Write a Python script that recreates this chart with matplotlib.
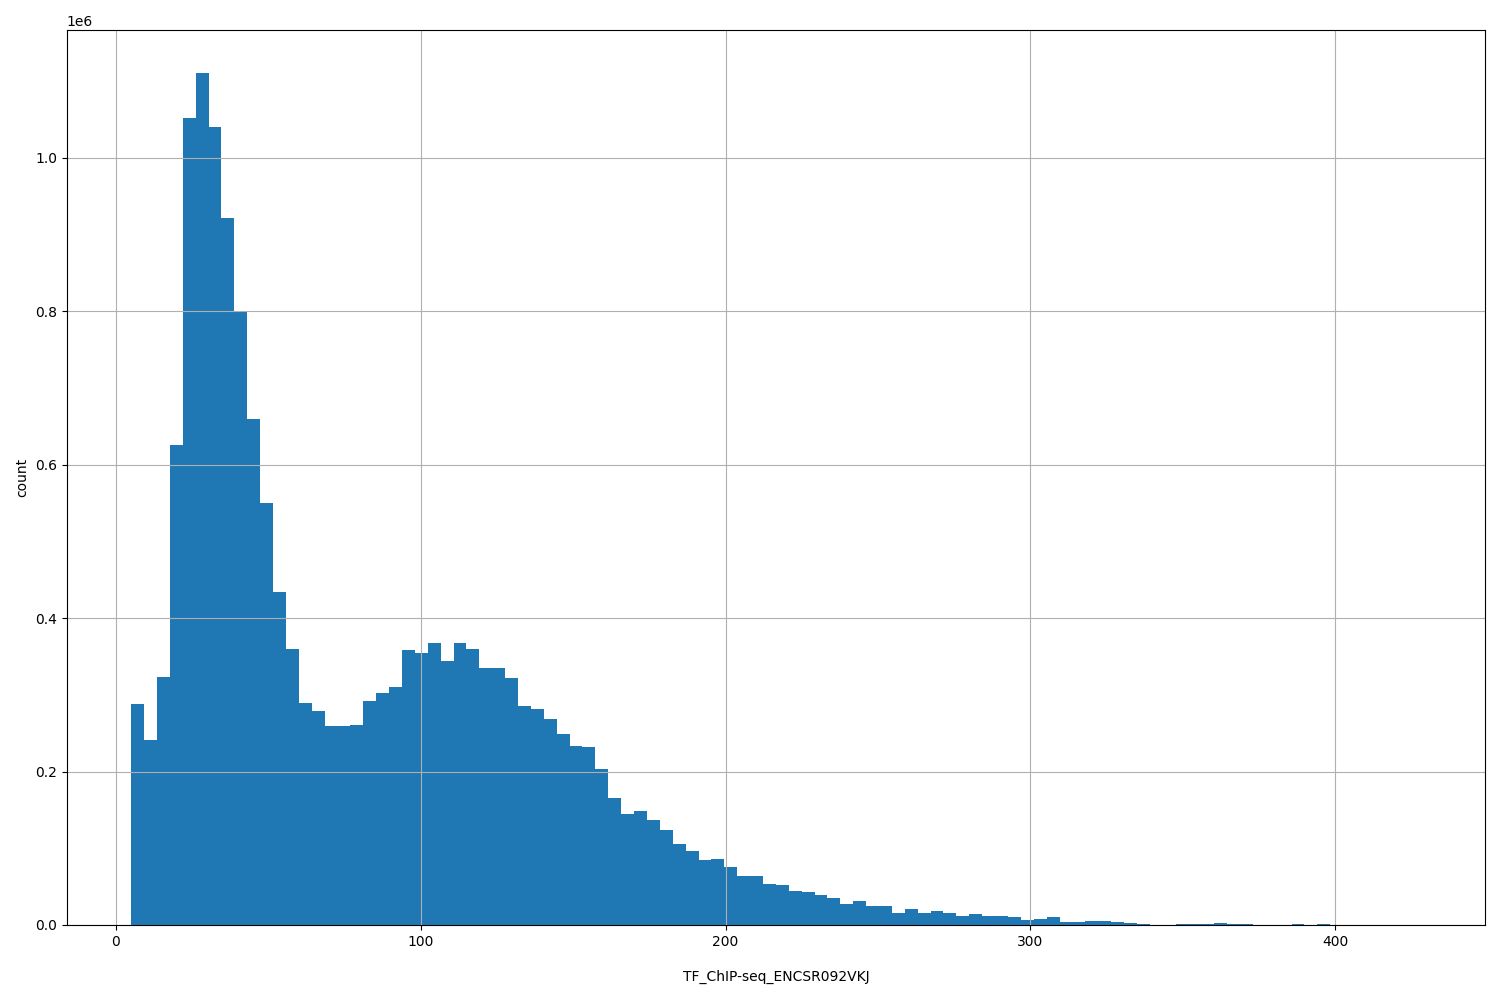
import matplotlib
matplotlib.use('Agg')
import matplotlib.pyplot as plt
import numpy as np

# histogram of 100 bins between lo and hi, counts
lo, hi = 5.0, 428.0
counts = [
    0.288, 0.241, 0.323, 0.625, 1.052, 1.111, 1.040, 0.922, 0.800, 0.660,
    0.550, 0.434, 0.360, 0.289, 0.279, 0.259, 0.259, 0.261, 0.292, 0.302,
    0.310, 0.358, 0.355, 0.368, 0.344, 0.368, 0.360, 0.335, 0.335, 0.322,
    0.285, 0.282, 0.269, 0.249, 0.233, 0.232, 0.203, 0.166, 0.145, 0.149,
    0.137, 0.124, 0.106, 0.096, 0.085, 0.086, 0.076, 0.064, 0.064, 0.053,
    0.052, 0.044, 0.043, 0.039, 0.035, 0.027, 0.031, 0.025, 0.025, 0.015,
    0.021, 0.016, 0.018, 0.016, 0.012, 0.014, 0.012, 0.012, 0.010, 0.006,
    0.008, 0.011, 0.004, 0.004, 0.005, 0.005, 0.004, 0.002, 0.001, 0.0005,
    0.0005, 0.0008, 0.001, 0.0008, 0.002, 0.001, 0.0015, 0.0005, 0.0003, 0.0005,
    0.0015, 0.0003, 0.001, 0.0003, 0.0002, 0.0002, 0.0003, 0.0002, 0.0001, 0.0002,
]
counts = np.array(counts) * 1e6
edges = np.linspace(lo, hi, len(counts) + 1)

fig, ax = plt.subplots(figsize=(15, 10), dpi=100)
ax.hist(edges[:-1], bins=edges, weights=counts, color='#1f77b4')
ax.grid(True)
ax.set_xlabel('TF_ChIP-seq_ENCSR092VKJ', labelpad=15)
ax.set_ylabel('count')
plt.subplots_adjust(left=0.0445, right=0.99, top=0.97, bottom=0.075)
plt.savefig('out.png')
